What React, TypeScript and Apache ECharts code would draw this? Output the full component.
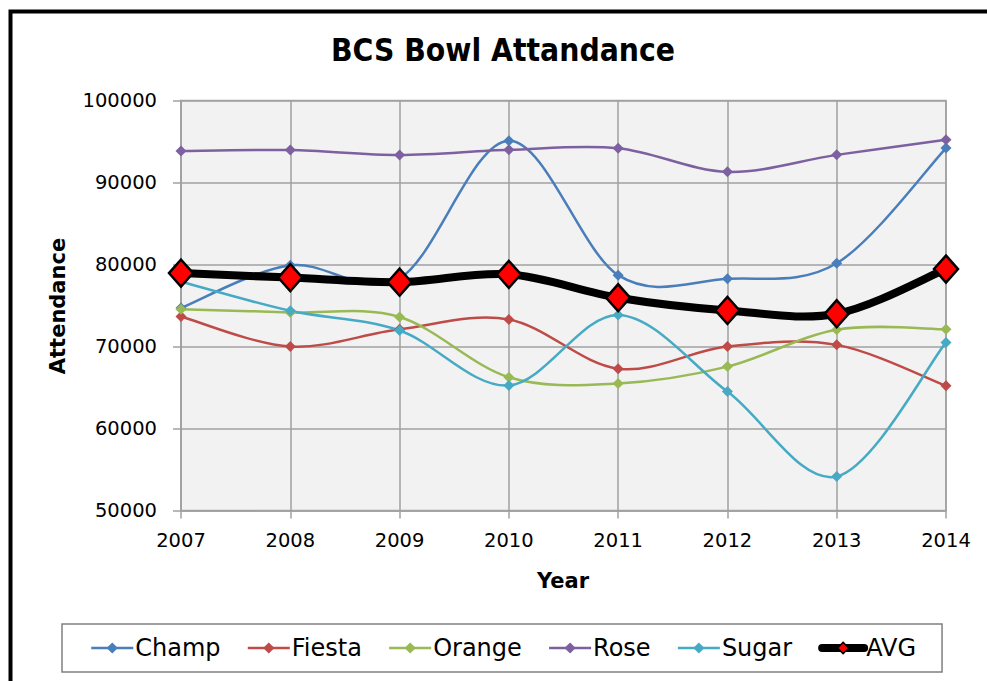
import React, { useEffect, useRef } from "react";
import * as echarts from "echarts";

const years = ["2007", "2008", "2009", "2010", "2011", "2012", "2013", "2014"];
const champ = [74700, 79900, 78300, 95100, 78700, 78250, 80150, 94200];
const fiesta = [73650, 70000, 72100, 73300, 67300, 70000, 70200, 65200];
const orange = [74550, 74150, 73600, 66250, 65500, 67550, 72050, 72100];
const rose = [93850, 93950, 93350, 93980, 94180, 91300, 93370, 95200];
const sugar = [77900, 74350, 71950, 65250, 73850, 64500, 54150, 70500];
const avg = [78950, 78400, 77850, 78800, 75950, 74400, 74000, 79450];
const yTicks = { min: 50000, max: 100000, interval: 10000 };

const FONT = "DejaVu Sans";

// Excel-style smoothed line (Catmull-Rom bezier) drawn through the chart's own scales
function curveSeries(name: string, values: number[], color: string, width: number, z: number) {
  return {
    name: name + " curve",
    type: "custom",
    coordinateSystem: "cartesian2d",
    data: values.map((v, i) => [i, v]),
    z,
    silent: true,
    renderItem: (params: any, api: any) => {
      if (params.dataIndex !== 0) return null;
      const pts = values.map((v, i) => api.coord([i, v]));
      const n = pts.length;
      let d = `M${pts[0][0]},${pts[0][1]}`;
      for (let i = 0; i < n - 1; i++) {
        const p0 = pts[Math.max(i - 1, 0)];
        const p1 = pts[i];
        const p2 = pts[i + 1];
        const p3 = pts[Math.min(i + 2, n - 1)];
        const c1x = p1[0] + (p2[0] - p0[0]) / 6;
        const c1y = p1[1] + (p2[1] - p0[1]) / 6;
        const c2x = p2[0] - (p3[0] - p1[0]) / 6;
        const c2y = p2[1] - (p3[1] - p1[1]) / 6;
        d += ` C${c1x},${c1y} ${c2x},${c2y} ${p2[0]},${p2[1]}`;
      }
      return {
        type: "path",
        shape: { pathData: d },
        style: { fill: "none", stroke: color, lineWidth: width, lineCap: "round", lineJoin: "round" },
      };
    },
  };
}

export default function App() {
  const ref = useRef<HTMLDivElement>(null);
  useEffect(() => {
    if (!ref.current) return;
    const chart = echarts.init(ref.current, null, { renderer: "svg" });
    const colors = {
      Champ: "#4a7ebb",
      Fiesta: "#be4b48",
      Orange: "#98b954",
      Rose: "#7d60a0",
      Sugar: "#46aac5",
    };
    const mk = (name: string, data: number[], color: string) => ({
      name,
      type: "line",
      data,
      symbol: "diamond",
      symbolSize: 11,
      lineStyle: { color, width: 2.5, opacity: 0 },
      itemStyle: { color },
      z: 4,
    });
    const legendLine = (name: string, color: string) => ({
      name,
      lineStyle: { color, width: 2.5, opacity: 1 },
    });
    chart.setOption({
      animation: false,
      backgroundColor: "#ffffff",
      textStyle: { fontFamily: FONT },
      grid: {
        left: 181,
        top: 100.5,
        width: 765,
        height: 410,
        show: true,
        backgroundColor: "#f2f2f2",
        borderColor: "#a6a6a6",
        borderWidth: 1.5,
      },
      xAxis: {
        type: "category",
        data: years,
        boundaryGap: false,
        axisLine: { show: true, lineStyle: { color: "#a0a0a0", width: 1.5 } },
        axisTick: { show: true, length: 8, alignWithLabel: true, lineStyle: { color: "#a0a0a0", width: 1.5 } },
        splitLine: { show: true, lineStyle: { color: "#a0a0a0", width: 1.5 } },
        axisLabel: { color: "#000", fontSize: 19.5, margin: 20, fontFamily: FONT },
      },
      yAxis: {
        type: "value",
        min: yTicks.min,
        max: yTicks.max,
        interval: yTicks.interval,
        axisLine: { show: true, lineStyle: { color: "#a0a0a0", width: 1.5 } },
        axisTick: { show: true, length: 8, lineStyle: { color: "#a0a0a0", width: 1.5 } },
        splitLine: { show: true, lineStyle: { color: "#a0a0a0", width: 1.5 } },
        axisLabel: {
          color: "#000",
          fontSize: 19.5,
          margin: 24,
          fontFamily: FONT,
          formatter: (v: number) => String(v),
        },
      },
      legend: {
        left: 62,
        top: 624,
        padding: [12, 26, 12, 28],
        itemGap: 26,
        itemWidth: 42,
        itemHeight: 14,
        borderColor: "#808080",
        borderWidth: 1.5,
        textStyle: { color: "#000", fontSize: 24, fontFamily: FONT, padding: [0, 0, 0, -3] },
        data: [
          legendLine("Champ", colors.Champ),
          legendLine("Fiesta", colors.Fiesta),
          legendLine("Orange", colors.Orange),
          legendLine("Rose", colors.Rose),
          legendLine("Sugar", colors.Sugar),
          { name: "AVG", lineStyle: { color: "#000", width: 8, cap: "round", opacity: 1 }, itemStyle: { borderWidth: 1.5 } },
        ],
      },
      graphic: [
        {
          type: "rect",
          shape: { x: 10.5, y: 11.5, width: 1200, height: 900 },
          style: { fill: "none", stroke: "#000", lineWidth: 4 },
          silent: true,
        },
        {
          type: "text",
          x: 503,
          y: 50,
          style: {
            text: "BCS Bowl Attandance",
            fontFamily: "DejaVu Sans Condensed",
            fontWeight: "bold",
            fontSize: 31.5,
            fill: "#000",
            align: "center",
            verticalAlign: "middle",
          },
        },
        {
          type: "text",
          x: 58,
          y: 306,
          rotation: Math.PI / 2,
          style: {
            text: "Attendance",
            fontFamily: FONT,
            fontWeight: "bold",
            fontSize: 21,
            fill: "#000",
            align: "center",
            verticalAlign: "middle",
          },
        },
        {
          type: "text",
          x: 563,
          y: 581,
          style: {
            text: "Year",
            fontFamily: FONT,
            fontWeight: "bold",
            fontSize: 21,
            fill: "#000",
            align: "center",
            verticalAlign: "middle",
          },
        },
      ],
      series: [
        curveSeries("Champ", champ, colors.Champ, 2.5, 2),
        curveSeries("Fiesta", fiesta, colors.Fiesta, 2.5, 2),
        curveSeries("Orange", orange, colors.Orange, 2.5, 2),
        curveSeries("Rose", rose, colors.Rose, 2.5, 2),
        curveSeries("Sugar", sugar, colors.Sugar, 2.5, 2),
        curveSeries("AVG", avg, "#000", 8, 3),
        mk("Champ", champ, colors.Champ),
        mk("Fiesta", fiesta, colors.Fiesta),
        mk("Orange", orange, colors.Orange),
        mk("Rose", rose, colors.Rose),
        mk("Sugar", sugar, colors.Sugar),
        {
          name: "AVG",
          type: "line",
          data: avg,
          symbol: "diamond",
          symbolSize: [24, 27],
          lineStyle: { color: "#000", width: 8, opacity: 0 },
          itemStyle: { color: "#ff0000", borderColor: "#000", borderWidth: 2.5 },
          z: 5,
        },
      ],
    });
    return () => chart.dispose();
  }, []);
  return (
    <div
      ref={ref}
      style={{ position: "fixed", left: 0, top: 0, width: 987, height: 681 }}
    />
  );
}
